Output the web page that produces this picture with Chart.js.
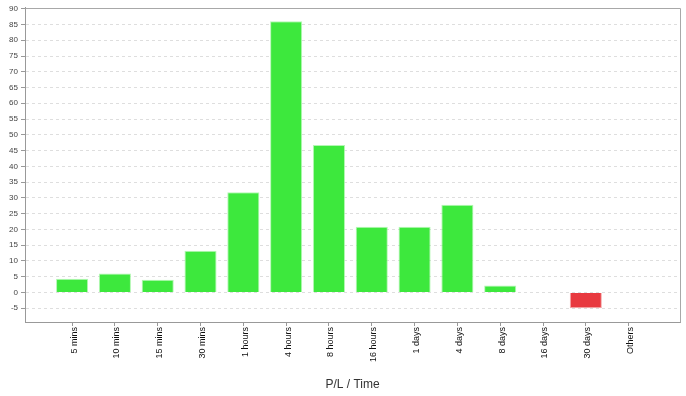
<!DOCTYPE html>
<html>
<head>
<meta charset="utf-8">
<script src="https://cdn.jsdelivr.net/npm/chart.js@4"></script>
<style>
  html, body { margin: 0; padding: 0; background: #fff; }
  #wrap { width: 686px; height: 396px; }
</style>
</head>
<body>
<div id="wrap"><canvas id="plChart" width="686" height="396"></canvas></div>
<script>
const categories = ['5 mins', '10 mins', '15 mins', '30 mins', '1 hours', '4 hours', '8 hours',
    '16 hours', '1 days', '4 days', '8 days', '16 days', '30 days', 'Others'];
const plValues = [4.3, 6, 4, 13.2, 31.8, 86, 46.8, 20.8, 20.8, 27.8, 2.2, 0, -5, 0];
const yTicks = [-5, 0, 5, 10, 15, 20, 25, 30, 35, 40, 45, 50, 55, 60, 65, 70, 75, 80, 85, 90];

const points = categories.map((c, i) => ({ x: i, y: plValues[i] }));
const barColors = plValues.map(v => v < 0 ? '#e8393f' : '#3de83d');
const edgeColors = plValues.map(v => v < 0 ? 'rgba(240,150,150,0.8)' : 'rgba(160,245,160,0.8)');

// frame around the plot area (top and right sides)
const frame = {
    id: 'frame',
    afterDatasetsDraw(chart) {
        const a = chart.chartArea;
        const ctx = chart.ctx;
        ctx.save();
        ctx.strokeStyle = '#a8a8a8';
        ctx.lineWidth = 1;
        ctx.beginPath();
        ctx.moveTo(Math.round(a.left) + 0.5, Math.round(a.top) + 0.5);
        ctx.lineTo(Math.round(a.right) + 0.5, Math.round(a.top) + 0.5);
        ctx.lineTo(Math.round(a.right) + 0.5, Math.round(a.bottom) + 0.5);
        ctx.stroke();
        ctx.restore();
    }
};

const fam = 'Liberation Sans, Arial, sans-serif';

new Chart(document.getElementById('plChart').getContext('2d'), {
    type: 'bar',
    data: {
        datasets: [{
            label: 'P/L',
            data: points,
            backgroundColor: barColors,
            borderColor: edgeColors,
            borderWidth: 1,
            barPercentage: 0.75,
            categoryPercentage: 1
        }]
    },
    options: {
        responsive: false,
        animation: false,
        layout: { padding: { top: 6, right: 6, left: 0, bottom: 0 } },
        plugins: {
            legend: { display: false },
            tooltip: { enabled: false }
        },
        scales: {
            x: {
                type: 'linear',
                offset: false,
                min: -1.1,
                max: 14.2,
                afterBuildTicks: s => { s.ticks = categories.map((c, i) => ({ value: i })); },
                afterFit: s => { s.height = 74; },
                ticks: {
                    callback: v => categories[v],
                    autoSkip: false,
                    minRotation: 90,
                    maxRotation: 90,
                    labelOffset: 2,
                    color: '#111',
                    font: { family: fam, size: 9 },
                    padding: 1
                },
                grid: { offset: false, drawOnChartArea: false, tickLength: 4, tickColor: '#999' },
                border: { color: '#999' },
                title: {
                    display: true,
                    text: 'P/L / Time',
                    color: '#333',
                    font: { family: fam, size: 12 },
                    padding: { top: 6 }
                }
            },
            y: {
                min: -9.4,
                max: 90.3,
                afterBuildTicks: s => { s.ticks = yTicks.map(v => ({ value: v })); },
                afterFit: s => { s.width = 25; },
                ticks: { color: '#444', font: { family: fam, size: 8 }, padding: 3 },
                grid: { color: '#dedede', tickLength: 4, tickColor: '#999' },
                border: { color: '#999', dash: [3, 3] }
            }
        }
    },
    plugins: [frame]
});
</script>
</body>
</html>
